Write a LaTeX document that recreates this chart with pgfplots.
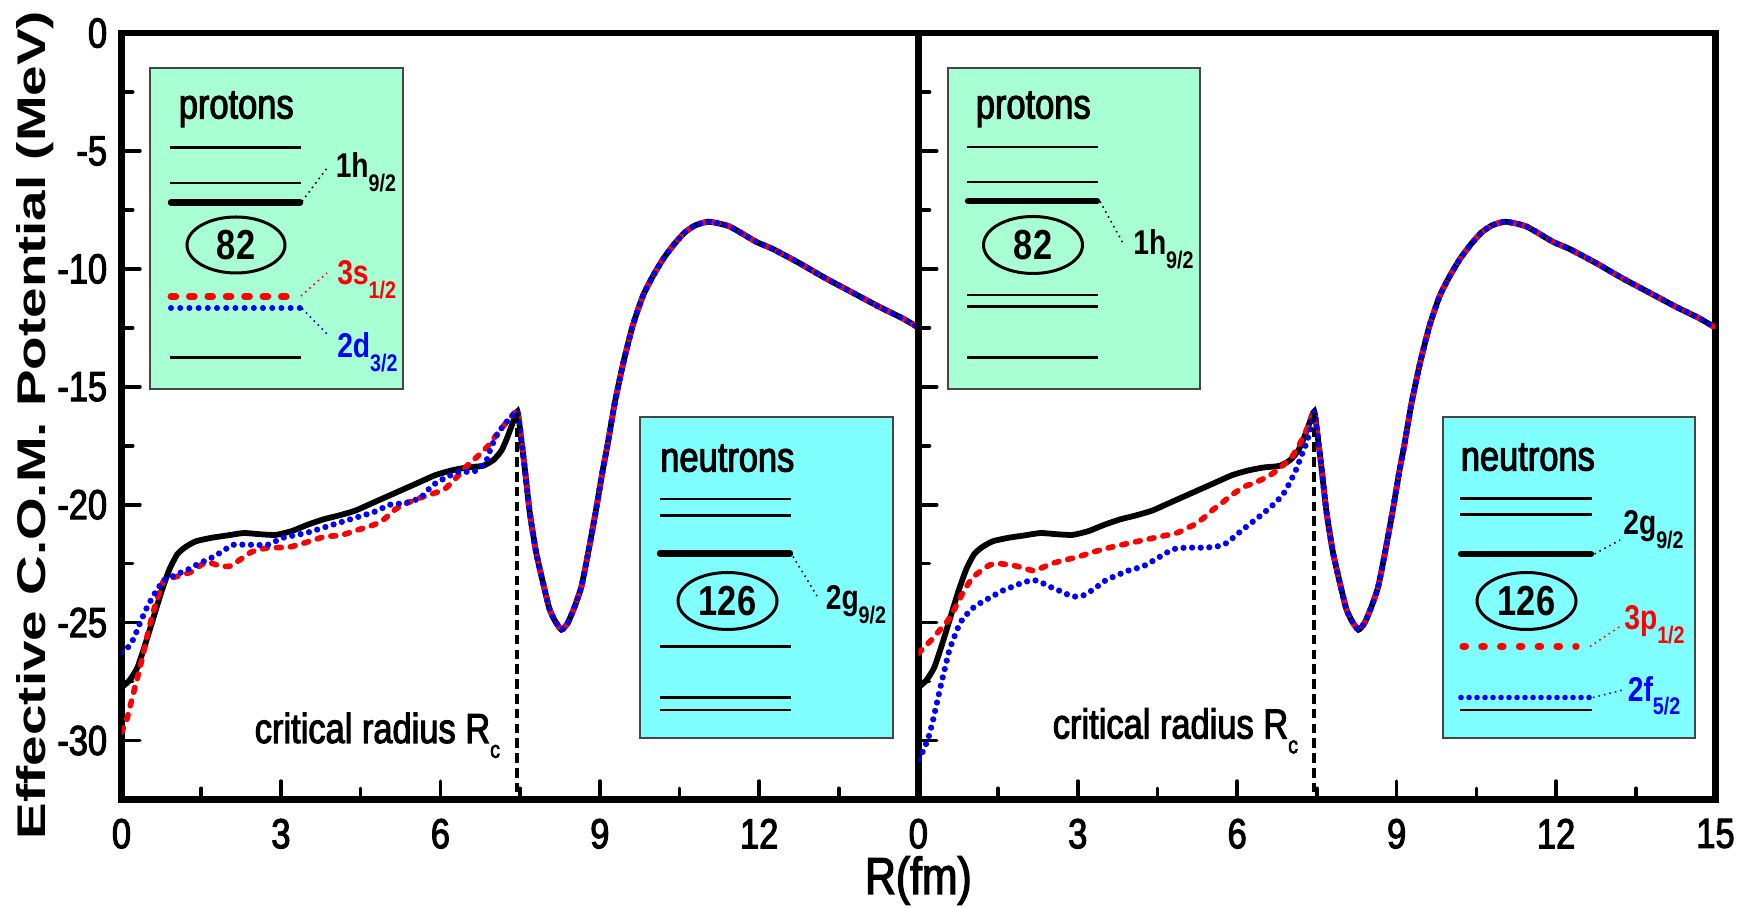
\documentclass[border=0pt]{standalone}
\usepackage{pgfplots}
\pgfplotsset{compat=1.18}
\usepackage{pgfplotstable}
\usepackage{fontspec}
\setmainfont{Liberation Sans}
\newfontfamily\narrowfont[FakeStretch=0.82, FakeBold=2.5]{Liberation Sans}
\newfontfamily\narrowplain[FakeStretch=0.82]{Liberation Sans}
\newfontfamily\widefont[FakeStretch=1.37]{Liberation Sans}

\definecolor{protonbox}{RGB}{168,255,212}
\definecolor{neutronbox}{RGB}{128,255,255}
\definecolor{boxedge}{RGB}{70,70,70}
\definecolor{cred}{RGB}{255,0,0}
\definecolor{cblue}{RGB}{0,0,255}

\newcommand{\lev}[2]{{\narrowplain\bfseries\fontsize{8.6}{10}\selectfont #1\raisebox{-3.3pt}{\fontsize{6}{7}\selectfont #2}}}
\newcommand{\txt}{\narrowfont\fontsize{10.5}{12}\selectfont}
\newcommand{\magic}{\narrowplain\bfseries\fontsize{10.5}{12}\selectfont}

% part of the potential shared by all configurations (beyond the critical radius)
\pgfplotstableread{
x y
7.45 -16.05
7.52 -17.2
7.58 -18.3
7.68 -20.3
7.80 -22.0
7.93 -23.3
8.05 -24.4
8.15 -24.9
8.28 -25.3
8.40 -25.0
8.53 -24.3
8.65 -23.5
8.75 -22.4
8.85 -21.2
8.93 -20.2
9.05 -18.6
9.15 -17.4
9.28 -15.7
9.44 -14.0
9.62 -12.4
9.81 -11.15
10.00 -10.3
10.20 -9.55
10.40 -8.95
10.60 -8.45
10.80 -8.15
11.05 -8.0
11.44 -8.2
11.94 -8.85
12.25 -9.15
12.75 -9.75
13.25 -10.4
13.75 -11.0
14.25 -11.6
14.70 -12.1
15.00 -12.5
}\common

% ground state
\pgfplotstableread{
x y
0.00 -27.75
0.15 -27.45
0.30 -26.9
0.45 -25.9
0.60 -24.8
0.75 -23.7
0.90 -22.75
1.05 -22.1
1.20 -21.8
1.40 -21.55
1.70 -21.4
2.00 -21.3
2.30 -21.2
2.60 -21.25
2.90 -21.28
3.20 -21.12
3.50 -20.85
3.80 -20.62
4.10 -20.45
4.40 -20.25
4.70 -19.95
5.00 -19.65
5.30 -19.35
5.60 -19.05
5.90 -18.75
6.20 -18.55
6.50 -18.42
6.80 -18.35
7.00 -18.1
7.15 -17.7
7.25 -17.2
7.35 -16.6
}\gs
\pgfplotstablevertcat{\gs}{\common}

% proton 3s1/2
\pgfplotstableread{
x y
0.00 -29.65
0.10 -29.1
0.19 -28.3
0.28 -27.5
0.37 -26.7
0.48 -25.6
0.59 -24.6
0.70 -23.8
0.80 -23.2
0.95 -23.1
1.10 -23.0
1.31 -22.85
1.50 -22.55
1.65 -22.45
1.85 -22.6
2.05 -22.6
2.25 -22.3
2.45 -22.0
2.75 -21.83
3.15 -21.8
3.47 -21.6
3.83 -21.35
4.12 -21.3
4.47 -21.05
4.75 -20.85
4.95 -20.6
5.15 -20.2
5.35 -19.95
5.63 -19.7
5.90 -19.5
6.10 -19.3
6.30 -18.85
6.50 -18.35
6.70 -17.95
6.90 -17.5
7.10 -16.9
7.30 -16.35
}\pthree
\pgfplotstablevertcat{\pthree}{\common}

% proton 2d3/2
\pgfplotstableread{
x y
0.00 -26.27
0.10 -26.1
0.19 -25.85
0.28 -25.4
0.37 -24.9
0.48 -24.35
0.59 -23.9
0.70 -23.5
0.80 -23.2
0.95 -23.05
1.09 -22.9
1.25 -22.75
1.45 -22.5
1.65 -22.3
1.81 -22.1
1.95 -21.9
2.10 -21.7
2.46 -21.7
2.75 -21.7
3.04 -21.4
3.47 -21.2
3.90 -20.9
4.33 -20.6
4.76 -20.3
5.05 -20.0
5.34 -19.93
5.63 -19.7
5.84 -19.2
6.06 -18.9
6.35 -18.6
6.63 -18.6
6.85 -18.2
6.95 -17.6
7.05 -17.1
7.20 -16.6
7.35 -16.25
}\ptwo
\pgfplotstablevertcat{\ptwo}{\common}

% neutron 3p1/2
\pgfplotstableread{
x y
0.00 -26.3
0.13 -26.0
0.26 -25.7
0.41 -25.3
0.56 -24.9
0.71 -24.3
0.87 -23.6
1.02 -23.1
1.18 -22.8
1.35 -22.55
1.53 -22.5
1.70 -22.55
1.84 -22.6
2.00 -22.7
2.18 -22.8
2.35 -22.65
2.50 -22.5
2.75 -22.35
3.02 -22.2
3.30 -22.0
3.63 -21.8
3.93 -21.65
4.24 -21.5
4.55 -21.35
4.86 -21.2
5.05 -21.0
5.23 -20.8
5.40 -20.5
5.55 -20.2
5.70 -19.95
5.86 -19.65
6.05 -19.35
6.17 -19.2
6.35 -19.05
6.49 -18.9
6.65 -18.7
6.80 -18.45
6.95 -18.15
7.05 -17.9
7.17 -17.45
7.27 -17.0
7.37 -16.5
}\nthree
\pgfplotstablevertcat{\nthree}{\common}

% neutron 2f5/2
\pgfplotstableread{
x y
0.00 -30.8
0.10 -30.4
0.20 -29.8
0.28 -29.1
0.36 -28.3
0.44 -27.5
0.51 -26.85
0.58 -26.2
0.66 -25.7
0.74 -25.25
0.82 -24.9
0.95 -24.55
1.07 -24.3
1.22 -24.1
1.38 -23.9
1.58 -23.65
1.79 -23.46
1.97 -23.3
2.15 -23.2
2.28 -23.25
2.40 -23.4
2.55 -23.55
2.71 -23.7
2.85 -23.85
2.97 -23.9
3.10 -23.85
3.22 -23.7
3.38 -23.45
3.53 -23.2
3.73 -23.0
3.94 -22.8
4.10 -22.7
4.24 -22.6
4.40 -22.4
4.55 -22.2
4.70 -22.0
4.86 -21.85
5.10 -21.82
5.37 -21.82
5.60 -21.78
5.78 -21.65
5.95 -21.35
6.08 -21.1
6.22 -20.85
6.39 -20.55
6.55 -20.25
6.70 -19.95
6.86 -19.57
6.98 -19.1
7.11 -18.5
7.22 -17.85
7.30 -17.4
7.39 -16.7
}\ntwo
\pgfplotstablevertcat{\ntwo}{\common}

\tikzset{rcline/.style={black, line width=1pt, dash pattern=on 2.4pt off 1.3pt}}
\pgfplotsset{
  solidcurve/.style={black, line width=1.45pt, smooth, tension=0.35},
  dashcurve/.style={cred, line width=1.4pt, line cap=round, dash pattern=on 1.2pt off 2.3pt, smooth, tension=0.35},
  dotcurve/.style={cblue, line width=1.55pt, line cap=round, dash pattern=on 0pt off 2.15pt, smooth, tension=0.35},
  panel/.style={
    scale only axis, width=199.3pt, height=191.6pt,
    xmin=0, xmax=15, ymin=-32.5, ymax=0,
    ytick={-30,-25,...,0}, minor ytick={-27.5,-22.5,...,-2.5},
    minor xtick={1.5,4.5,...,13.5},
    tick align=inside, tick pos=left,
    axis line style={line width=1.6pt},
    every tick/.style={black, line width=0.9pt, line cap=round},
    major tick length=4.6pt, minor tick length=2.8pt,
    /pgf/number format/assume math mode=true,
    ticklabel style={font=\txt, inner sep=0pt},
    xticklabel style={anchor=north, yshift=-4.65pt},
    yticklabel style={anchor=east, xshift=-3.4pt},
  },
}

\begin{document}
\begin{tikzpicture}
% left panel: proton excitation
\begin{axis}[panel, at={(30.375pt,27.125pt)}, anchor=south west,
  xtick={0,3,...,12}]
  \addplot[solidcurve] table {\gs};
  \addplot[dashcurve] table {\pthree};
  \addplot[dotcurve] table {\ptwo};
  \draw[rcline] (axis cs:7.44,-16.1) -- (axis cs:7.44,-32.5);
\end{axis}
% right panel: neutron excitation
\begin{axis}[panel, at={(229.575pt,27.125pt)}, anchor=south west,
  xtick={0,3,...,15}, yticklabels={}]
  \addplot[solidcurve] table {\gs};
  \addplot[dashcurve] table {\nthree};
  \addplot[dotcurve] table {\ntwo};
  \draw[rcline] (axis cs:7.44,-16.1) -- (axis cs:7.44,-32.5);
\end{axis}

% axis titles
\node[rotate=90, anchor=base, inner sep=0pt] at (11.25pt,120.75pt)
  {\widefont\bfseries\fontsize{10}{12}\selectfont Effective C.O.M. Potential (MeV)};
\node[anchor=base, inner sep=0pt] at (229.6pt,3.5pt)
  {\narrowfont\fontsize{13}{15}\selectfont R(fm)};

% level schemes, placed in pixel-like units (4 units = 1pt, y downwards)
\begin{scope}[x=0.25pt, y=-0.25pt, yshift=227pt]
  % ---- left panel, protons
  \draw[boxedge, line width=0.5pt, fill=protonbox] (150,68.5) rectangle (402.5,389);
  \node[anchor=base west, inner sep=0pt, font=\txt] at (178,118.5) {protons};
  \draw[line width=0.6pt] (170,147.5) -- (301,147.5);
  \draw[line width=0.6pt] (170,183) -- (301,183);
  \draw[line width=1.6pt, line cap=round] (171,202.5) -- (300,202.5);
  \draw[line width=0.75pt] (236,245) ellipse [x radius=49, y radius=28];
  \node[inner sep=0pt, font=\magic] at (236,245) {82};
  \draw[cred, line width=1.7pt, line cap=round, dash pattern=on 1.2pt off 3.4pt] (171,296.5) -- (299,296.5);
  \draw[cblue, line width=1.5pt, line cap=round, dash pattern=on 0pt off 2.3pt] (171,308) -- (301,308);
  \draw[line width=0.6pt] (170,357.5) -- (301,357.5);
  \draw[black, line width=0.4pt, densely dotted] (302,201.5) -- (327,168);
  \draw[cred, line width=0.4pt, densely dotted] (301,296) -- (327,273);
  \draw[cblue, line width=0.4pt, densely dotted] (302,308.5) -- (328,335);
  \node[anchor=base west, inner sep=0pt] at (335,178) {\lev{1h}{9/2}};
  \node[anchor=base west, inner sep=0pt, text=cred] at (336.5,285) {\lev{3s}{1/2}};
  \node[anchor=base west, inner sep=0pt, text=cblue] at (336.5,358) {\lev{2d}{3/2}};
  \node[anchor=base west, inner sep=0pt, font=\txt] at (254,743) {critical radius R\raisebox{-3.7pt}{\fontsize{6}{7}\selectfont c}};

  % ---- left panel, neutrons
  \draw[boxedge, line width=0.5pt, fill=neutronbox] (640,417.5) rectangle (892.5,738);
  \node[anchor=base west, inner sep=0pt, font=\txt] at (659.5,471.5) {neutrons};
  \draw[line width=0.6pt] (659.5,499) -- (791,499);
  \draw[line width=0.6pt] (659.5,515.5) -- (791,515.5);
  \draw[line width=1.6pt, line cap=round] (660,553.5) -- (790,553.5);
  \draw[line width=0.75pt] (727.5,601) ellipse [x radius=49.5, y radius=28.5];
  \node[inner sep=0pt, font=\magic] at (727.5,601) {126};
  \draw[line width=0.6pt] (659.5,646.5) -- (791,646.5);
  \draw[line width=0.6pt] (659.5,697.5) -- (791,697.5);
  \draw[line width=0.6pt] (659.5,710) -- (791,710);
  \draw[black, line width=0.4pt, densely dotted] (793,556.5) -- (817,596);
  \node[anchor=base west, inner sep=0pt] at (825,610) {\lev{2g}{9/2}};

  % ---- right panel, protons
  \draw[boxedge, line width=0.5pt, fill=protonbox] (947.5,68.5) rectangle (1200,389);
  \node[anchor=base west, inner sep=0pt, font=\txt] at (975,118.5) {protons};
  \draw[line width=0.6pt] (967,147) -- (1098,147);
  \draw[line width=0.6pt] (967,182) -- (1098,182);
  \draw[line width=1.6pt, line cap=round] (968,201) -- (1097,201);
  \draw[line width=0.75pt] (1033,245) ellipse [x radius=49.5, y radius=28.5];
  \node[inner sep=0pt, font=\magic] at (1033,245) {82};
  \draw[line width=0.6pt] (967,295) -- (1098,295);
  \draw[line width=0.6pt] (967,306.5) -- (1098,306.5);
  \draw[line width=0.6pt] (967,357.5) -- (1098,357.5);
  \draw[black, line width=0.4pt, densely dotted] (1100,201.5) -- (1124,245);
  \node[anchor=base west, inner sep=0pt] at (1132.5,255) {\lev{1h}{9/2}};
  \node[anchor=base west, inner sep=0pt, font=\txt] at (1052,738.5) {critical radius R\raisebox{-3.7pt}{\fontsize{6}{7}\selectfont c}};

  % ---- right panel, neutrons
  \draw[boxedge, line width=0.5pt, fill=neutronbox] (1442.5,417.5) rectangle (1694.5,738);
  \node[anchor=base west, inner sep=0pt, font=\txt] at (1460,470.5) {neutrons};
  \draw[line width=0.6pt] (1460,498.5) -- (1592,498.5);
  \draw[line width=0.6pt] (1460,514.5) -- (1592,514.5);
  \draw[line width=1.6pt, line cap=round] (1461,554) -- (1591,554);
  \draw[line width=0.75pt] (1526.5,601) ellipse [x radius=49.5, y radius=28.5];
  \node[inner sep=0pt, font=\magic] at (1526.5,601) {126};
  \draw[cred, line width=1.8pt, line cap=round, dash pattern=on 0.6pt off 4.1pt] (1463,646.5) -- (1576,646.5);
  \draw[cblue, line width=1.4pt, line cap=round, dash pattern=on 0pt off 2pt] (1461,697.5) -- (1592,697.5);
  \draw[line width=0.6pt] (1460,710) -- (1592,710);
  \draw[black, line width=0.4pt, densely dotted] (1594.5,554) -- (1620,540);
  \draw[cred, line width=0.4pt, densely dotted] (1590,646.5) -- (1620,626.5);
  \draw[cblue, line width=0.4pt, densely dotted] (1593,697.5) -- (1623,690);
  \node[anchor=base west, inner sep=0pt] at (1622.5,535) {\lev{2g}{9/2}};
  \node[anchor=base west, inner sep=0pt, text=cred] at (1623.5,630) {\lev{3p}{1/2}};
  \node[anchor=base west, inner sep=0pt, text=cblue] at (1627,701.5) {\lev{2f}{5/2}};
\end{scope}

\pgfresetboundingbox
\useasboundingbox (0,0) rectangle (438pt,227pt);
\end{tikzpicture}
\end{document}
